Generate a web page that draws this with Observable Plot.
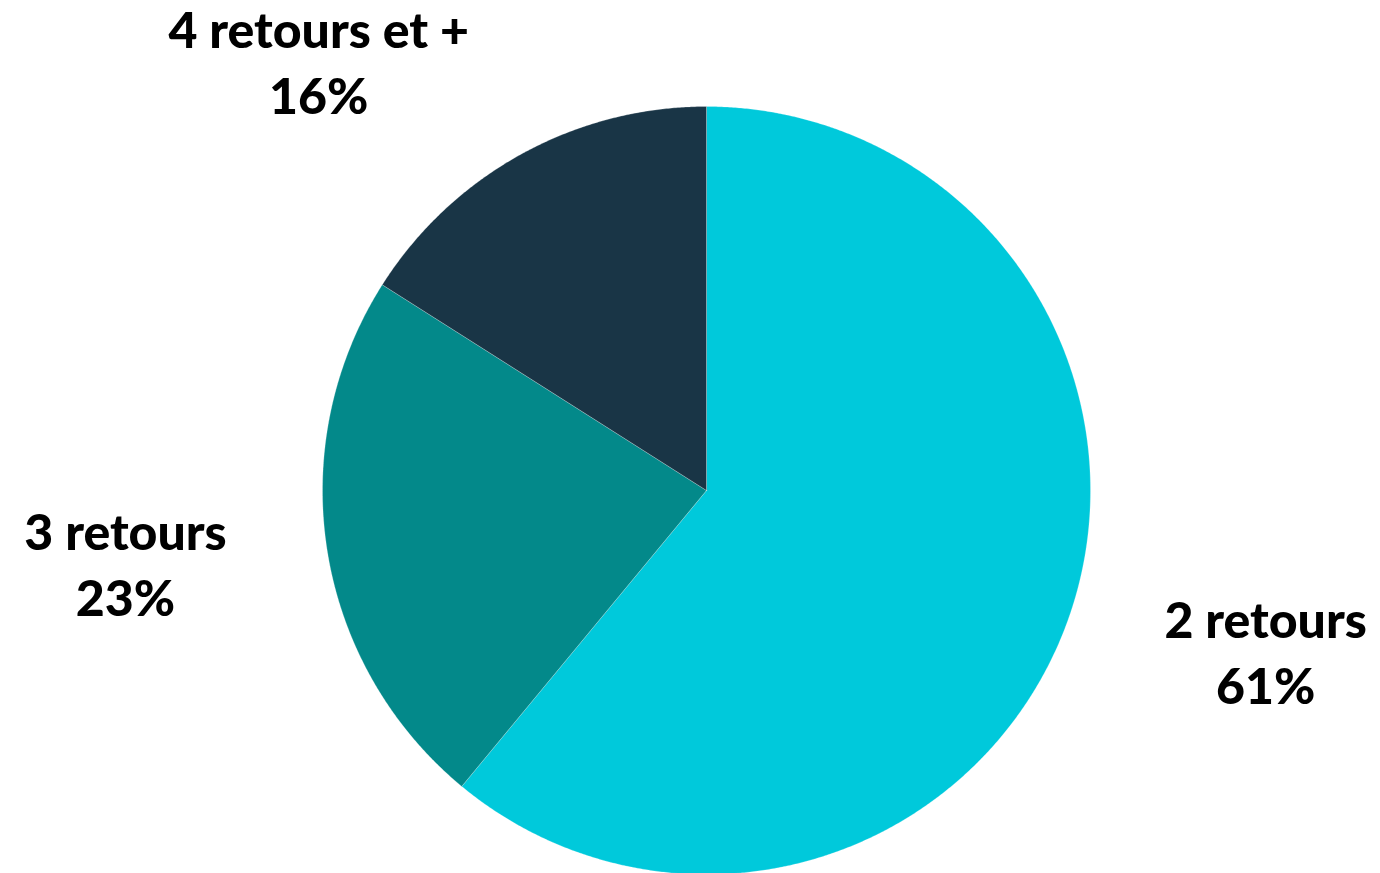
<!DOCTYPE html>
<html>
<head>
<meta charset="utf-8">
<script src="https://cdn.jsdelivr.net/npm/d3@7"></script>
<script src="https://cdn.jsdelivr.net/npm/@observablehq/plot@0.6"></script>
<style>
  html, body { margin: 0; padding: 0; background: #ffffff; }
  #chart { width: 1380px; height: 873px; }
  #chart svg { display: block; }
</style>
</head>
<body>
<div id="chart"></div>
<script>
// ---- Data ----
const categories = ["2 retours", "3 retours", "4 retours et +"];
const shares = [61, 23, 16];
const colors = ["#00C9DB", "#03898A", "#193546"];

// ---- Layout (label anchor positions in pie-radius units, not data) ----
const labelAnchors = [[1.456, -0.415], [-1.513, -0.185], [-1.01, 1.122]];

// Build slice polygons from the data (clockwise from 12 o'clock)
const total = d3.sum(shares);
const slices = [];
let acc = 0;
categories.forEach((cat, i) => {
  const a0 = (acc / total) * 2 * Math.PI;
  acc += shares[i];
  const a1 = (acc / total) * 2 * Math.PI;
  const n = Math.max(4, Math.ceil((a1 - a0) / 0.005));
  slices.push({cat, x: 0, y: 0});
  for (let k = 0; k <= n; k++) {
    const a = a0 + (a1 - a0) * k / n;
    slices.push({cat, x: Math.sin(a), y: Math.cos(a)});
  }
  slices.push({cat, x: 0, y: 0});
});

const labels = categories.map((cat, i) => ({
  cat, x: labelAnchors[i][0], y: labelAnchors[i][1],
  text: `${cat}\n${shares[i]}%`
}));

// center (706,490), radius 384px in a 1380x873 frame
const R = 384, cx = 706, cy = 490, W = 1380, H = 873;

const chart = Plot.plot({
  width: W,
  height: H,
  margin: 0,
  x: {domain: [-cx / R, (W - cx) / R], range: [0, W], axis: null},
  y: {domain: [(cy - H) / R, cy / R], range: [H, 0], axis: null},
  color: {domain: categories, range: colors},
  style: {fontFamily: "Lato, 'Open Sans', sans-serif", background: "white"},
  marks: [
    Plot.line(slices, {x: "x", y: "y", z: "cat", fill: "cat", stroke: "white", strokeWidth: 0.5, strokeOpacity: 0.45, curve: "linear-closed"}),
    Plot.text(labels, {
      x: "x", y: "y", text: "text",
      fontSize: 50, fontWeight: 900, fill: "#000000",
      lineHeight: 1.32, textAnchor: "middle"
    })
  ]
});

document.getElementById("chart").appendChild(chart);
</script>
</body>
</html>
